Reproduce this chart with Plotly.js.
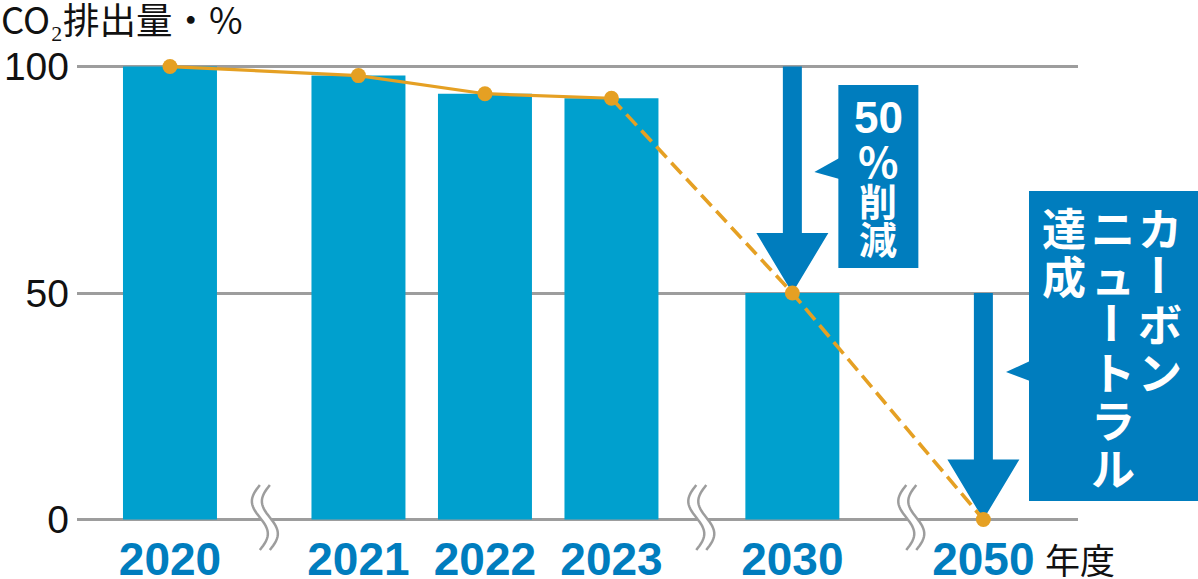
<!DOCTYPE html>
<html><head><meta charset="utf-8">
<script src="https://cdn.plot.ly/plotly-3.0.1.min.js"></script>
<style>html,body{margin:0;padding:0;background:#fff}#chart{width:1198px;height:579px}</style>
</head><body><div id="chart"></div>
<script>
// ---- data ----
const years = ['2020', '2021', '2022', '2023', '2030', '2050'];
const barValues = [100, 98, 94, 93, 50, 0];
const lineValues = [100, 98, 94, 93, 50, 0];
const solidPoints = 4;                 // 2020-2023 actual (solid), rest target (dashed)
const yTicks = [0, 50, 100];
const yTickLabels = ['0', '50', '100'];
const titleText = 'CO₂排出量・%';
const unitText = '年度';
const note1Rows = ['50', '%', '削', '減'];
const note2Cols = ['カーボン', 'ニュートラル', '達成'];

// ---- layout geometry (broken x axis) ----
const W = 1198, H = 579, M = {l: 77, r: 120, t: 62, b: 55};
const xSlot = [0, 1.49, 2.49, 3.49, 4.92, 6.43];
const breakSlot = [0.75, 4.2, 5.86];
const xRange = [-0.735, 7.178];
const yRange = [-1, 101];

const plotW = W - M.l - M.r, plotH = H - M.t - M.b;
const pxX = plotW / (xRange[1] - xRange[0]);
const pxY = plotH / (yRange[1] - yRange[0]);
const xToPx = x => M.l + (x - xRange[0]) * pxX;
const pxToY = py => yRange[1] - (py - M.t) / pxY;
const paperX = px => (px - M.l) / plotW;
const paperY = py => (H - M.b - py) / plotH;

const BAR = '#00A0CE', BLUE = '#007DBE', ORANGE = '#E5A023', GRID = '#9d9d9d';
const CJK = 'Noto Sans CJK JP';

// ---- traces ----
const traces = [
  {type: 'bar', x: xSlot, y: barValues, width: 0.743, marker: {color: BAR}, hoverinfo: 'skip'},
  {type: 'scatter', mode: 'lines', x: xSlot.slice(0, solidPoints), y: lineValues.slice(0, solidPoints),
   line: {color: ORANGE, width: 3.2}, cliponaxis: false},
  {type: 'scatter', mode: 'lines', x: xSlot.slice(solidPoints - 1), y: lineValues.slice(solidPoints - 1),
   line: {color: ORANGE, width: 3.6, dash: '15px,7px'}, cliponaxis: false},
  {type: 'scatter', mode: 'markers', x: xSlot, y: lineValues,
   marker: {color: ORANGE, size: 15}, cliponaxis: false}
];

// ---- shapes ----
const shapes = [];
function arrow(xc, yTop, yTip) {
  const sw = 9.5 / pxX, hw = 36 / pxX, hl = 60 / pxY;
  const p = [[xc - sw, yTop], [xc + sw, yTop], [xc + sw, yTip + hl], [xc + hw, yTip + hl],
             [xc, yTip], [xc - hw, yTip + hl], [xc - sw, yTip + hl]];
  shapes.push({type: 'path', xref: 'x', yref: 'y', layer: 'between',
    path: 'M' + p.map(q => q[0] + ',' + q[1]).join('L') + 'Z',
    fillcolor: BLUE, line: {width: 0}});
}
arrow(xSlot[4], yTicks[2], lineValues[4]);
arrow(xSlot[5], yTicks[1], lineValues[5]);

// callout 1 (next to 2030 arrow)
const xc1 = xSlot[4];
const b1x0 = xc1 + 46 / pxX, b1x1 = xc1 + 126 / pxX;
shapes.push({type: 'rect', xref: 'x', yref: 'y', x0: b1x0, x1: b1x1, y0: pxToY(268), y1: pxToY(85),
  fillcolor: BLUE, line: {width: 0}, layer: 'above'});
shapes.push({type: 'path', xref: 'x', yref: 'y', layer: 'above', fillcolor: BLUE, line: {width: 0},
  path: `M${b1x0 + 1 / pxX},${pxToY(158)}L${xc1 + 22 / pxX},${pxToY(172)}L${b1x0 + 1 / pxX},${pxToY(179)}Z`});

// callout 2 (next to 2050 arrow) extends past the plot area
shapes.push({type: 'rect', xref: 'paper', yref: 'y', x0: paperX(1029), x1: paperX(1205), y0: pxToY(501), y1: pxToY(191),
  fillcolor: BLUE, line: {width: 0}, layer: 'above'});
shapes.push({type: 'path', xref: 'paper', yref: 'y', layer: 'above', fillcolor: BLUE, line: {width: 0},
  path: `M${paperX(1030)},${pxToY(361)}L${paperX(1006)},${pxToY(372)}L${paperX(1030)},${pxToY(381)}Z`});

// axis break marks
breakSlot.forEach(b => {
  const cx = xToPx(b);
  const left = [], right = [];
  for (let i = 0; i <= 30; i++) {
    const t = i / 30, py = 485 + 65 * t, off = -8 * Math.sin(2 * Math.PI * t);
    left.push([cx - 5 + off, py]);
    right.push([cx + 5 + off, py]);
  }
  const toPath = pts => pts.map((q, i) => (i ? 'L' : 'M') + (xRange[0] + (q[0] - M.l) / pxX) + ',' + paperY(q[1])).join('');
  shapes.push({type: 'path', xref: 'x', yref: 'paper', layer: 'above', fillcolor: '#ffffff', line: {width: 0},
    path: toPath(left.concat(right.slice().reverse())) + 'Z'});
  shapes.push({type: 'path', xref: 'x', yref: 'paper', layer: 'above', line: {color: GRID, width: 2.5}, path: toPath(left)});
  shapes.push({type: 'path', xref: 'x', yref: 'paper', layer: 'above', line: {color: GRID, width: 2.5}, path: toPath(right)});
});

// ---- annotations ----
const annotations = [
  {text: titleText, xref: 'paper', yref: 'paper', x: paperX(-1), y: paperY(19), xanchor: 'left', yanchor: 'middle',
   showarrow: false, font: {family: CJK, size: 36.5, color: '#111'}},
  {text: unitText, xref: 'paper', yref: 'paper', x: paperX(1043), y: paperY(558), xanchor: 'left', yanchor: 'middle',
   showarrow: false, font: {family: CJK, size: 35, color: '#111'}}
];
const note1Y = [117, 159, 199, 237];
note1Rows.forEach((s, i) => {
  const latin = /[0-9]/.test(s);
  annotations.push({text: s, xref: 'paper', yref: 'paper', x: paperX(878), y: paperY(note1Y[i]),
    xanchor: 'center', yanchor: 'middle', showarrow: false,
    font: {family: latin ? 'Liberation Sans' : CJK, size: latin ? 44 : (s === '%' ? 42 : 38), weight: 'bold', color: '#fff'}});
});
const colX = [1160, 1113, 1064];
note2Cols.forEach((col, c) => {
  Array.from(col).forEach((ch, r) => {
    annotations.push({text: ch, xref: 'paper', yref: 'paper', x: paperX(colX[c]), y: paperY(227 + 48 * r),
      xanchor: 'center', yanchor: 'middle', showarrow: false, textangle: ch === 'ー' ? 90 : 0,
      font: {family: CJK, size: 44, weight: 'bold', color: '#fff'}});
  });
});

const layout = {
  width: W, height: H, margin: {l: M.l, r: M.r, t: M.t, b: M.b, pad: 0},
  paper_bgcolor: '#fff', plot_bgcolor: '#fff', showlegend: false,
  xaxis: {range: xRange, tickvals: xSlot, ticktext: years, showgrid: false, zeroline: false, showline: false,
    ticks: '', ticklabelstandoff: 4, tickfont: {family: 'Liberation Sans', size: 46, weight: 'bold', color: BLUE}},
  yaxis: {range: yRange, tickvals: yTicks, ticktext: yTickLabels, showgrid: true, gridcolor: GRID, gridwidth: 3,
    zeroline: false, showline: false, ticks: '', ticklabelstandoff: 7,
    tickfont: {family: 'Liberation Sans', size: 39, color: '#111'}},
  shapes: shapes, annotations: annotations
};
Plotly.newPlot('chart', traces, layout, {staticPlot: true, displayModeBar: false});
</script></body></html>
